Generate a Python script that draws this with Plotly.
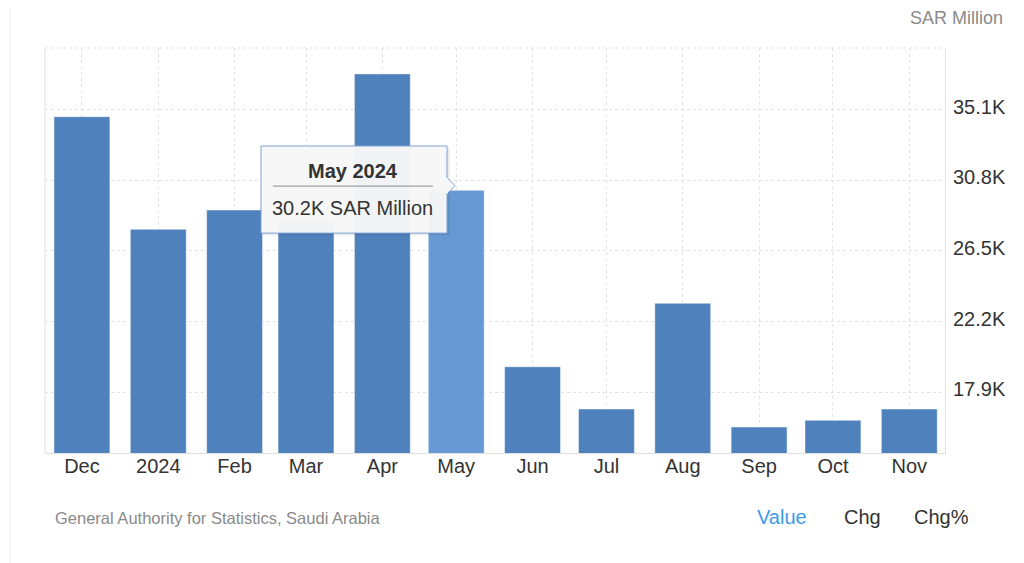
"""
Saudi Arabia monthly value chart (SAR Million), Dec 2023 - Nov 2024.
"""

import plotly.graph_objects as go

# data
months = ["2023-12-01", "2024-01-01", "2024-02-01", "2024-03-01", "2024-04-01", "2024-05-01",
          "2024-06-01", "2024-07-01", "2024-08-01", "2024-09-01", "2024-10-01", "2024-11-01"]
month_labels = ["Dec", "2024", "Feb", "Mar", "Apr", "May", "Jun", "Jul", "Aug", "Sep", "Oct", "Nov"]
values = [34690, 27820, 29000, 28400, 37300, 30200, 19440, 16860, 23310, 15760, 16170, 16860]
y_ticks = [17900, 22200, 26500, 30800, 35100]
y_tick_labels = ["17.9K", "22.2K", "26.5K", "30.8K", "35.1K"]
highlight = 5  # hovered bar (May 2024)

BAR_COLOR = "#4f81bd"
BAR_HOVER = "#6699d4"
GRID = "#e3e3e3"
TEXT = "#333333"
MUTED = "#8a8a8a"
FONT = "Liberation Sans, Arial, sans-serif"

DAY_MS = 86400000

colors = [BAR_HOVER if i == highlight else BAR_COLOR for i in range(len(values))]

fig = go.Figure()
fig.add_trace(
    go.Bar(
        x=months,
        y=values,
        width=22.7 * DAY_MS,
        marker=dict(color=colors, line=dict(color="rgba(255,255,255,0.45)", width=1)),
        hoverinfo="skip",
    )
)

# the page body adds an 8px offset, margins compensate for it
fig.update_layout(
    width=1024,
    height=563,
    margin=dict(l=37, r=87, t=40, b=118),
    plot_bgcolor="white",
    paper_bgcolor="white",
    showlegend=False,
    font=dict(family=FONT, color=TEXT, size=20),
)

fig.update_xaxes(
    type="date",
    range=["2023-11-16", "2024-11-15 12:00"],
    tickvals=months,
    ticktext=month_labels,
    showgrid=True,
    gridcolor=GRID,
    griddash="dot",
    gridwidth=1,
    showline=True,
    linecolor="#e0e0e0",
    linewidth=1,
    ticks="",
    ticklabelstandoff=-5,
    tickfont=dict(size=20, color=TEXT),
    zeroline=False,
)

fig.update_yaxes(
    side="right",
    range=[14180, 38880],
    tickvals=y_ticks,
    ticktext=y_tick_labels,
    showgrid=True,
    gridcolor=GRID,
    griddash="dot",
    gridwidth=1,
    showline=True,
    linecolor="#e0e0e0",
    linewidth=1,
    ticks="",
    ticklabelshift=-3,
    ticklabelstandoff=3,
    tickfont=dict(size=20, color=TEXT),
    zeroline=False,
)

# plot frame: solid left edge, dotted top edge
fig.add_shape(type="line", xref="paper", yref="paper", x0=0, x1=0, y0=0, y1=1,
              line=dict(color="#e0e0e0", width=1))
fig.add_shape(type="line", xref="paper", yref="paper", x0=0, x1=1, y0=1, y1=1,
              line=dict(color=GRID, width=1, dash="dot"))

# faint outer container edges
fig.add_shape(type="line", xref="paper", yref="paper", x0=-0.0389, x1=-0.0389, y0=-0.28, y1=1.12,
              line=dict(color="#f0f0f0", width=1))
fig.add_shape(type="line", xref="paper", yref="paper", x0=1.0833, x1=1.0833, y0=-0.28, y1=1.12,
              line=dict(color="#f0f0f0", width=1))

# tooltip for the hovered bar
tip_x0, tip_x1 = 0.24, 0.4467
tip_y0, tip_y1 = 0.543, 0.758
fig.add_shape(type="rect", xref="paper", yref="paper",
              x0=tip_x0 + 0.002, x1=tip_x1 + 0.003, y0=tip_y0 - 0.006, y1=tip_y1 - 0.004,
              fillcolor="rgba(0,0,0,0.08)", line=dict(width=0))
fig.add_shape(type="rect", xref="paper", yref="paper",
              x0=tip_x0, x1=tip_x1, y0=tip_y0, y1=tip_y1,
              fillcolor="rgba(247,247,247,0.97)", line=dict(color="#7fa3d3", width=1))
fig.add_shape(type="path", xref="paper", yref="paper",
              path="M 0.4467 0.680 L 0.4556 0.660 L 0.4467 0.640 Z",
              fillcolor="rgba(247,247,247,0.97)", line=dict(color="#7fa3d3", width=1))
fig.add_shape(type="line", xref="paper", yref="paper", x0=0.4467, x1=0.4467, y0=0.641, y1=0.679,
              line=dict(color="rgba(247,247,247,1)", width=2))
fig.add_shape(type="line", xref="paper", yref="paper", x0=0.2533, x1=0.4311, y0=0.659, y1=0.659,
              line=dict(color="#8c8c8c", width=1))

tip_title = "May 2024"
tip_value = f"{values[highlight] / 1000:.1f}K SAR Million"
fig.add_annotation(x=0.342, y=0.697, xref="paper", yref="paper", text=f"<b>{tip_title}</b>",
                   showarrow=False, xanchor="center", yanchor="middle",
                   font=dict(size=20, color=TEXT))
fig.add_annotation(x=0.342, y=0.605, xref="paper", yref="paper", text=tip_value,
                   showarrow=False, xanchor="center", yanchor="middle",
                   font=dict(size=20, color=TEXT))

# unit label, source and view switches
fig.add_annotation(x=1.0667, y=1.074, xref="paper", yref="paper", text="SAR Million",
                   showarrow=False, xanchor="right", yanchor="middle",
                   font=dict(size=18, color=MUTED))
fig.add_annotation(x=0.0089, y=-0.160, xref="paper", yref="paper",
                   text="General Authority for Statistics, Saudi Arabia",
                   showarrow=False, xanchor="left", yanchor="middle",
                   font=dict(size=16.5, color=MUTED))
fig.add_annotation(x=0.789, y=-0.158, xref="paper", yref="paper", text="Value",
                   showarrow=False, xanchor="left", yanchor="middle",
                   font=dict(size=20, color="#3d9be9"))
fig.add_annotation(x=0.8856, y=-0.158, xref="paper", yref="paper", text="Chg",
                   showarrow=False, xanchor="left", yanchor="middle",
                   font=dict(size=20, color=TEXT))
fig.add_annotation(x=0.9633, y=-0.158, xref="paper", yref="paper", text="Chg%",
                   showarrow=False, xanchor="left", yanchor="middle",
                   font=dict(size=20, color=TEXT))

fig.write_html("out.html")
